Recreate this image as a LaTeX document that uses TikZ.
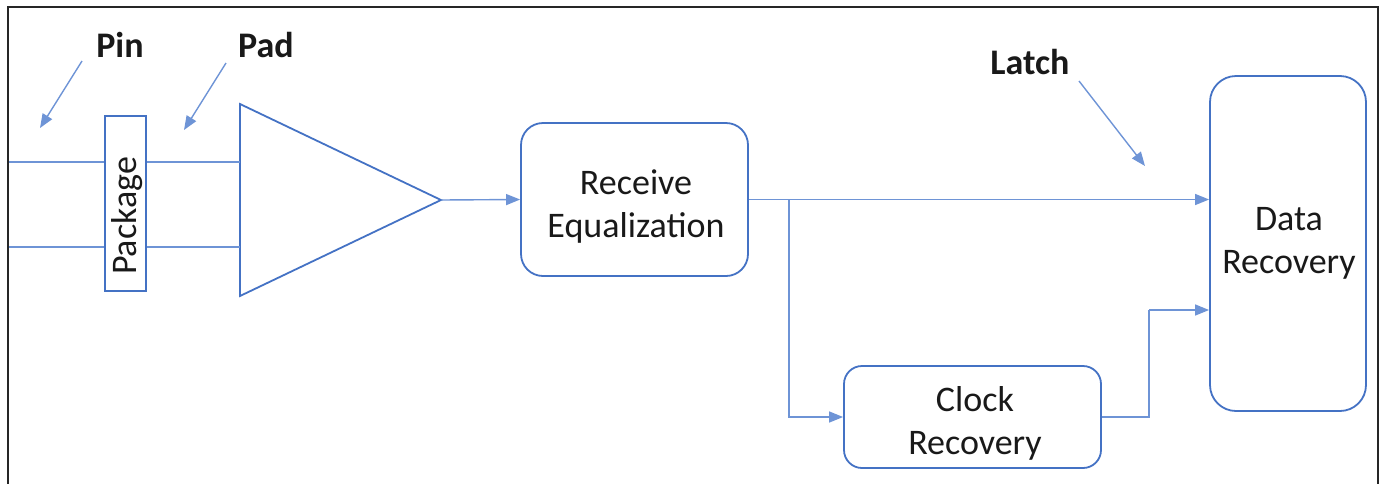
\documentclass[tikz,border=0pt]{standalone}
\usepackage{fontspec}
\setmainfont{Carlito}
\usetikzlibrary{arrows.meta}
\definecolor{boxblue}{RGB}{68,114,196}
\definecolor{lineblue}{RGB}{110,148,214}
\begin{document}
\begin{tikzpicture}[x=1pt,y=-1pt,
  rbox/.style={draw=boxblue, line width=1.8pt, rounded corners=22pt, inner sep=0pt},
  btxt/.style={align=center, inner sep=0pt, font=\fontsize{36}{43}\selectfont, text=black!90},
  pkgbox/.style={draw=boxblue, line width=1.8pt, inner sep=0pt, minimum width=41pt, minimum height=175pt},
  conn/.style={draw=lineblue, line width=1.4pt},
  arr/.style={conn, -{Triangle[length=14pt,width=11pt]}},
  lbl/.style={font=\fontsize{36}{43}\selectfont\bfseries, text=black!90}]
\useasboundingbox (0,0) rectangle (1384,483);
\clip (0,0) rectangle (1384,483);
% frame
\draw[line width=2.5pt, black!85] (8,495) -- (8,7) -- (1378,7) -- (1378,495);
% labels
\node[lbl] (pin) at (120,45) {Pin};
\node[lbl] (pad) at (266,45) {Pad};
\node[lbl] (latch) at (1030,62) {Latch};
% pointer arrows
\coordinate (pinA) at (82,61); \coordinate (pinB) at (40,128);
\coordinate (padA) at (226,63); \coordinate (padB) at (184,130);
\coordinate (latA) at (1079,81); \coordinate (latB) at (1145,166);
\draw[arr] (pinA) -- (pinB);
\draw[arr] (padA) -- (padB);
\draw[arr] (latA) -- (latB);
% package
\node[pkgbox] (pkg) at (125.5,203.5) {};
\node[rotate=90, btxt] (pkgtxt) at (127,216) {Package};
% amplifier triangle
\coordinate (triT) at (240,104); \coordinate (triB) at (240,296); \coordinate (tip) at (441,200);
\draw[boxblue, line width=1.8pt, line join=miter] (triT) -- (tip) -- (triB) -- cycle;
% input lines
\coordinate (inA) at (9,162); \coordinate (inB) at (9,247);
\draw[conn] (inA) -- (inA -| pkg.west);
\draw[conn] (inB) -- (inB -| pkg.west);
\draw[conn] (pkg.east |- inA) -- (triT |- inA);
\draw[conn] (pkg.east |- inB) -- (triT |- inB);
% blocks
\node[rbox, minimum width=227pt, minimum height=153pt] (re) at (634.5,199.5) {};
\node[btxt] (reT) at (636,207) {Receive\\Equalization};
\node[rbox, minimum width=156pt, minimum height=335pt, rounded corners=26pt] (dr) at (1288,243.5) {};
\node[btxt] (drT) at (1289,243) {Data\\Recovery};
\node[rbox, minimum width=257pt, minimum height=102pt, rounded corners=18pt] (cr) at (972.5,417) {};
\node[btxt] (crT) at (975,423) {Clock\\Recovery};
% connectors
\draw[arr] (tip) -- (re.west);
\draw[arr] (re.east) -- (re.east -| dr.west);
\coordinate (br) at (789,199.5);
\draw[arr] (br) |- (cr.west);
\coordinate (jog) at (1149,310);
\draw[conn] (cr.east) -| (jog);
\draw[arr] (jog) -- (jog -| dr.west);
\end{tikzpicture}
\end{document}
